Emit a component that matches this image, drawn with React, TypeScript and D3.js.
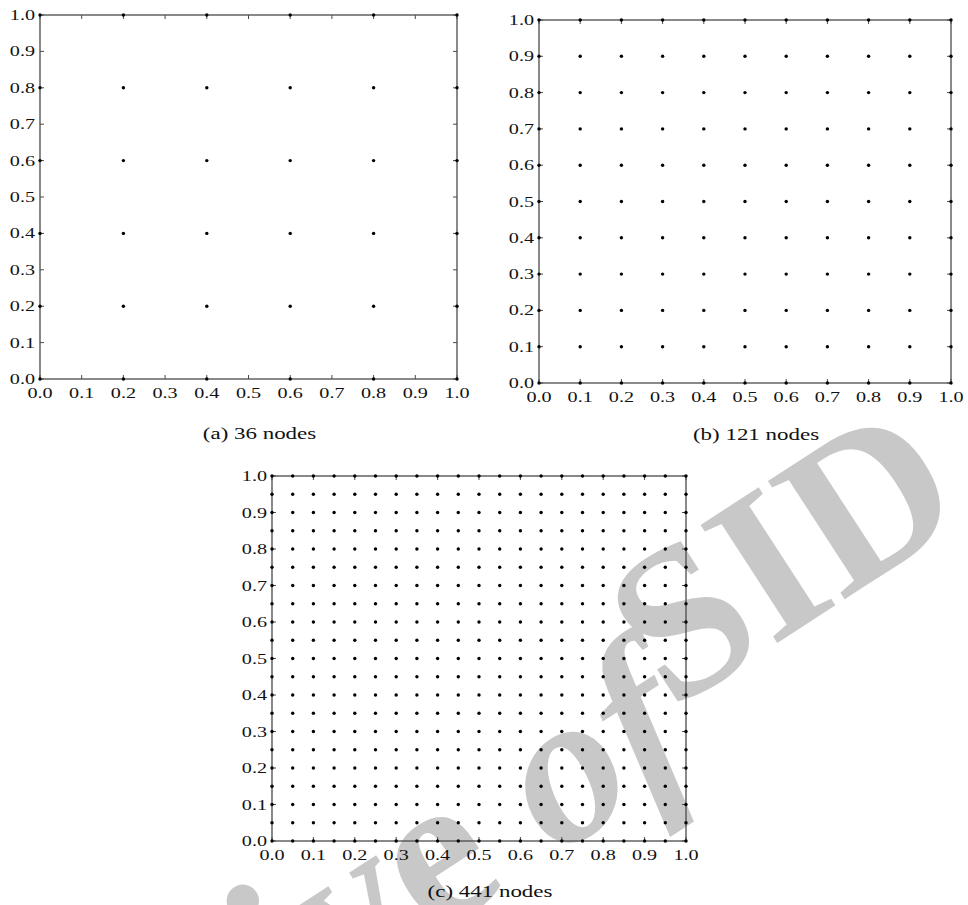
import React from 'react';
import * as d3 from 'd3';

// tick values shared by every panel
const tickValues = [0.0, 0.1, 0.2, 0.3, 0.4, 0.5, 0.6, 0.7, 0.8, 0.9, 1.0];

// node coordinates along each axis
const nodes36 = [0.0, 0.2, 0.4, 0.6, 0.8, 1.0];
const nodes121 = [0.0, 0.1, 0.2, 0.3, 0.4, 0.5, 0.6, 0.7, 0.8, 0.9, 1.0];
const nodes441 = [
  0.0, 0.05, 0.1, 0.15, 0.2, 0.25, 0.3, 0.35, 0.4, 0.45, 0.5,
  0.55, 0.6, 0.65, 0.7, 0.75, 0.8, 0.85, 0.9, 0.95, 1.0,
];

const captions = ['(a) 36 nodes', '(b) 121 nodes', '(c) 441 nodes'];

const FONT = '"Liberation Serif", "Times New Roman", serif';
const AXIS = '#4a4a4a';

type PanelProps = {
  left: number;
  right: number;
  top: number;
  bottom: number;
  nodes: number[];
  caption: string;
  capDy: number;
};

const Panel = ({ left, right, top, bottom, nodes, caption, capDy }: PanelProps) => {
  const x = d3.scaleLinear().domain([0, 1]).range([left, right]);
  const y = d3.scaleLinear().domain([0, 1]).range([bottom, top]);
  const pts = d3.cross(nodes, nodes);
  const tl = 4;

  return (
    <g>
      <rect
        x={left}
        y={top}
        width={right - left}
        height={bottom - top}
        fill="none"
        stroke={AXIS}
        strokeWidth={1.3}
      />
      {/* inward ticks on all four sides */}
      {tickValues.map((t, i) => (
        <g key={'t' + i} stroke={AXIS} strokeWidth={1}>
          <line x1={x(t)} x2={x(t)} y1={bottom} y2={bottom - tl} />
          <line x1={x(t)} x2={x(t)} y1={top} y2={top + tl} />
          <line x1={left} x2={left + tl} y1={y(t)} y2={y(t)} />
          <line x1={right} x2={right - tl} y1={y(t)} y2={y(t)} />
        </g>
      ))}
      {pts.map(([a, b], i) => (
        <circle key={'p' + i} cx={x(a)} cy={y(b)} r={1.7} fill="#000" />
      ))}
      {tickValues.map((t, i) => (
        <text
          key={'xl' + i}
          transform={`translate(${x(t)},${bottom + 18.5}) scale(1.3,1)`}
          textAnchor="middle"
          fontFamily={FONT}
          fontSize={15.5}
          fill="#111"
        >
          {t.toFixed(1)}
        </text>
      ))}
      {tickValues.map((t, i) => (
        <text
          key={'yl' + i}
          transform={`translate(${left - 5},${y(t) + 5}) scale(1.3,1)`}
          textAnchor="end"
          fontFamily={FONT}
          fontSize={15.5}
          fill="#111"
        >
          {t.toFixed(1)}
        </text>
      ))}
      <text
        transform={`translate(${(left + right) / 2 + 11},${bottom + capDy}) scale(1.35,1)`}
        textAnchor="middle"
        fontFamily={FONT}
        fontSize={17}
        fill="#111"
      >
        {caption}
      </text>
    </g>
  );
};

// grey diagonal watermark lying under the panels
const Watermark = () => (
  <g fill="#c8c8c8" fontFamily={FONT} fontSize={215} fontWeight="bold">
    <text transform="translate(510,886) rotate(-33)" textAnchor="end">Archive</text>
    <text transform="translate(555,857) rotate(-33)" fontStyle="italic">of</text>
    <text transform="translate(671,712) rotate(-33)">SID</text>
  </g>
);

export default function App() {
  return (
    <svg
      width={968}
      height={905}
      style={{ position: 'absolute', left: 0, top: 0, background: '#fff' }}
    >
      <Watermark />
      <Panel left={40} right={457} top={15} bottom={379} nodes={nodes36} caption={captions[0]} capDy={60} />
      <Panel left={539} right={951} top={20} bottom={383} nodes={nodes121} caption={captions[1]} capDy={57} />
      <Panel left={272} right={686} top={476} bottom={841} nodes={nodes441} caption={captions[2]} capDy={56} />
    </svg>
  );
}
